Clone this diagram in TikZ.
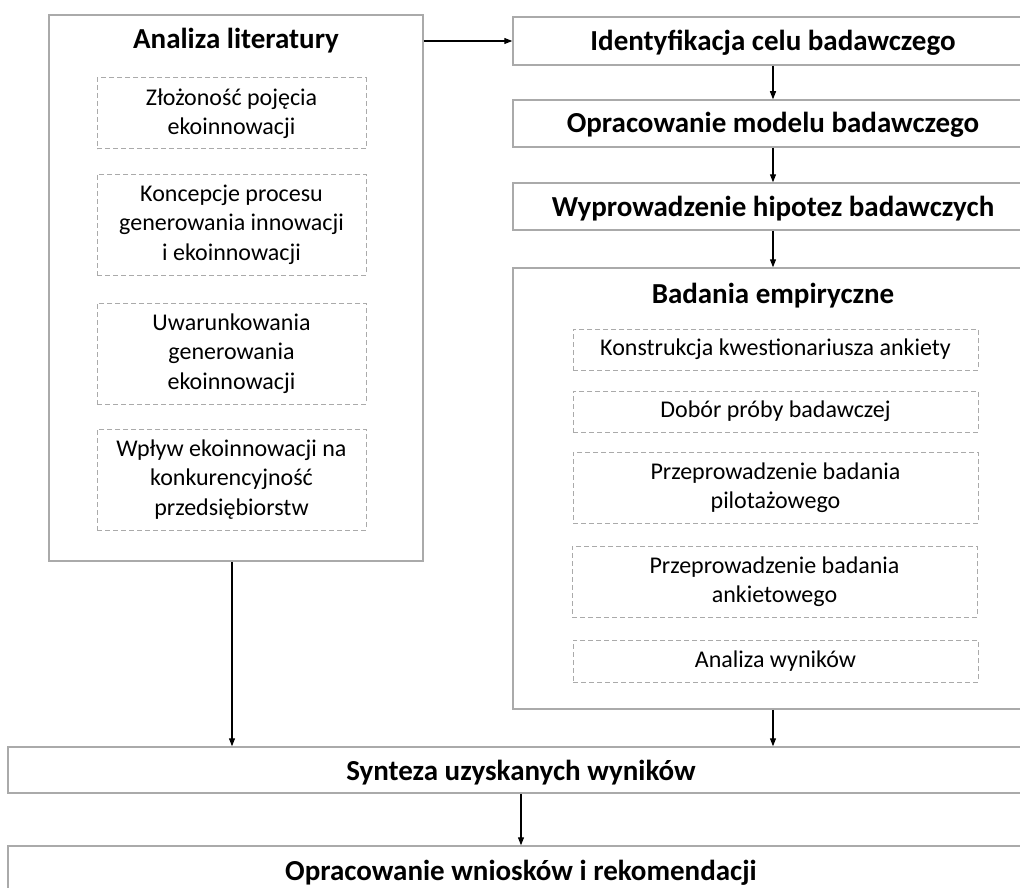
\documentclass[tikz,border=0pt]{standalone}
\usepackage{fontspec}
\setmainfont{Carlito}
\usetikzlibrary{arrows.meta}
\definecolor{boxgray}{RGB}{170,170,170}
\definecolor{dashgray}{RGB}{170,170,170}
\begin{document}
\begin{tikzpicture}[x=1pt,y=-1pt,
  outer/.style={draw=boxgray,line width=1.5pt,inner sep=0pt,fill=white},
  sub/.style={draw=dashgray,line width=1pt,dash pattern=on 5pt off 3pt,inner sep=0pt,align=center,font=\fontsize{24}{29.3}\selectfont},
  title/.style={font=\fontsize{29}{35}\selectfont\bfseries,inner sep=0pt,anchor=base},
  arr/.style={-{Triangle[length=8pt,width=6pt]},line width=1.1pt,black}]
\useasboundingbox (0,0) rectangle (1020,888);
\clip (0,0) rectangle (1020,888);
% left column
\node[outer,minimum width=374pt,minimum height=546pt] (lit) at (236,288) {};
\node[title] (littitle) at (236,49) {Analiza literatury};
\node[sub,minimum width=269pt,minimum height=71pt] (l1) at (231.5,113.5) {Złożoność pojęcia\\ekoinnowacji};
\node[sub,minimum width=269pt,minimum height=101pt] (l2) at (231.5,224.5) {Koncepcje procesu\\generowania innowacji\\i ekoinnowacji};
\node[sub,minimum width=269pt,minimum height=101pt] (l3) at (231.5,353.5) {Uwarunkowania\\generowania\\ekoinnowacji};
\node[sub,minimum width=269pt,minimum height=101pt] (l4) at (231.5,479.5) {Wpływ ekoinnowacji na\\konkurencyjność\\przedsiębiorstw};
% right column
\node[outer,minimum width=520pt,minimum height=48pt] (ident) at (773,41) {};
\node[title] (identt) at (773,50.5) {Identyfikacja celu badawczego};
\node[outer,minimum width=520pt,minimum height=47pt] (model) at (773,123.5) {};
\node[title] (modelt) at (773,133) {Opracowanie modelu badawczego};
\node[outer,minimum width=520pt,minimum height=47pt] (hip) at (773,206.5) {};
\node[title] (hipt) at (773,216) {Wyprowadzenie hipotez badawczych};
\node[outer,minimum width=520pt,minimum height=441pt] (emp) at (773,488.5) {};
\node[title] (empt) at (773,303) {Badania empiryczne};
\node[sub,minimum width=405pt,minimum height=41pt] (r1) at (775.5,349.5) {Konstrukcja kwestionariusza ankiety};
\node[sub,minimum width=405pt,minimum height=41pt] (r2) at (775.5,411.5) {Dobór próby badawczej};
\node[sub,minimum width=405pt,minimum height=71pt] (r3) at (775.5,487.5) {Przeprowadzenie badania\\pilotażowego};
\node[sub,minimum width=405pt,minimum height=71pt] (r4) at (774.5,581.5) {Przeprowadzenie badania\\ankietowego};
\node[sub,minimum width=405pt,minimum height=42pt] (r5) at (775.5,661) {Analiza wyników};
% bottom
\node[outer,minimum width=1026pt,minimum height=46pt] (syn) at (521,770) {};
\node[title] (synt) at (521,780) {Synteza uzyskanych wyników};
\node[outer,minimum width=1026pt,minimum height=46pt] (wn) at (521,869) {};
\node[title] (wnt) at (521,880) {Opracowanie wniosków i rekomendacji};
% connectors
\draw[arr] (lit.north east |- ident.west) -- (ident.west);
\draw[arr] (ident.south) -- (model.north);
\draw[arr] (model.south) -- (hip.north);
\draw[arr] (hip.south) -- (emp.north);
\draw[arr] ([xshift=-4pt]lit.south) -- ([xshift=-4pt]lit.south |- syn.north);
\draw[arr] (emp.south) -- (emp.south |- syn.north);
\draw[arr] (syn.south) -- (wn.north);
\end{tikzpicture}
\end{document}
